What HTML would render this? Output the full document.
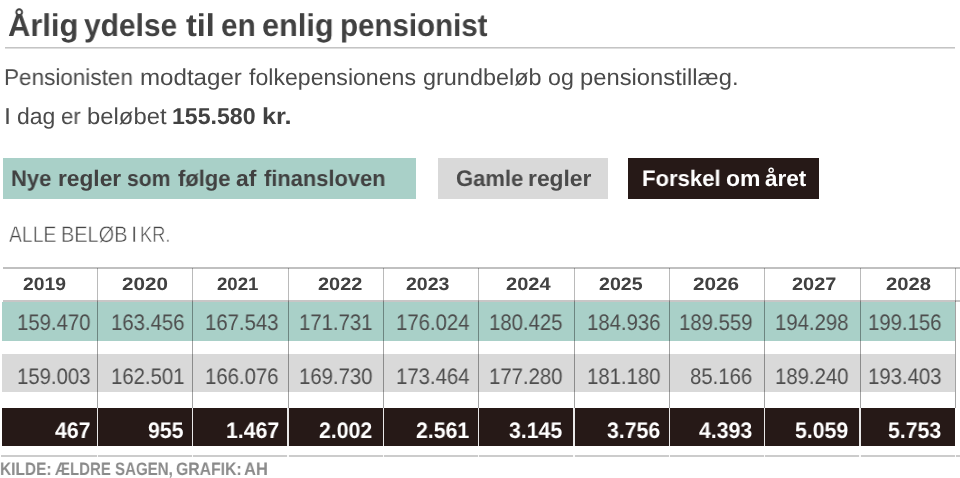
<!DOCTYPE html>
<html lang="da">
<head>
<meta charset="utf-8">
<title>Årlig ydelse til en enlig pensionist</title>
<style>
html,body{margin:0;padding:0;background:#fff;}
body{width:960px;height:478px;position:relative;overflow:hidden;font-family:'Liberation Sans', sans-serif;}
.t{will-change:transform;text-rendering:geometricPrecision;position:absolute;white-space:nowrap;line-height:1;transform-origin:0 0;font-family:'Liberation Sans', sans-serif;}
.thin{-webkit-text-stroke:0.5px #fff;}
.r{position:absolute;}
</style>
</head>
<body>
<div class="r" style="left:5px;top:47px;width:949.5px;height:2px;background:linear-gradient(#c4c4c4 50%,#dedede 50%);"></div>
<div class="r" style="left:3px;top:158.1px;width:412.6px;height:40.8px;background:#a9d0c8;"></div>
<div class="r" style="left:438.4px;top:158.1px;width:169.5px;height:40.8px;background:#d9d9d9;"></div>
<div class="r" style="left:628.3px;top:158.1px;width:190.5px;height:40.8px;background:#261917;"></div>
<div class="r" style="left:2.6px;top:267px;width:957.4px;height:1.7px;background:#c0c0c0;"></div>
<div class="r" style="left:1.5px;top:302.0px;width:953.3px;height:38.7px;background:#a9d0c8;"></div>
<div class="r" style="left:3px;top:300.3px;width:957px;height:1.7px;background:#c8c6c6;"></div>
<div class="r" style="left:1.5px;top:353.7px;width:953.2px;height:38.3px;background:#d9d9d9;"></div>
<div class="r" style="left:1.6px;top:407.8px;width:953.3px;height:38.2px;background:#261917;"></div>
<div class="r" style="left:1.0px;top:455.1px;width:959px;height:1.7px;background:#cccccc;"></div>
<div class="r" style="left:96.9px;top:267.5px;width:1px;height:33px;background:rgba(0,0,0,0.27);"></div>
<div class="r" style="left:96.9px;top:300.5px;width:1px;height:107.3px;background:rgba(0,0,0,0.36);"></div>
<div class="r" style="left:96.7px;top:407.8px;width:1.4px;height:49.5px;background:rgba(255,255,255,0.9);"></div>
<div class="r" style="left:192.23px;top:267.5px;width:1px;height:33px;background:rgba(0,0,0,0.27);"></div>
<div class="r" style="left:192.23px;top:300.5px;width:1px;height:107.3px;background:rgba(0,0,0,0.36);"></div>
<div class="r" style="left:192.03px;top:407.8px;width:1.4px;height:49.5px;background:rgba(255,255,255,0.9);"></div>
<div class="r" style="left:287.56px;top:267.5px;width:1px;height:33px;background:rgba(0,0,0,0.27);"></div>
<div class="r" style="left:287.56px;top:300.5px;width:1px;height:107.3px;background:rgba(0,0,0,0.36);"></div>
<div class="r" style="left:287.36px;top:407.8px;width:1.4px;height:49.5px;background:rgba(255,255,255,0.9);"></div>
<div class="r" style="left:382.89px;top:267.5px;width:1px;height:33px;background:rgba(0,0,0,0.27);"></div>
<div class="r" style="left:382.89px;top:300.5px;width:1px;height:107.3px;background:rgba(0,0,0,0.36);"></div>
<div class="r" style="left:382.69px;top:407.8px;width:1.4px;height:49.5px;background:rgba(255,255,255,0.9);"></div>
<div class="r" style="left:478.22px;top:267.5px;width:1px;height:33px;background:rgba(0,0,0,0.27);"></div>
<div class="r" style="left:478.22px;top:300.5px;width:1px;height:107.3px;background:rgba(0,0,0,0.36);"></div>
<div class="r" style="left:478.02px;top:407.8px;width:1.4px;height:49.5px;background:rgba(255,255,255,0.9);"></div>
<div class="r" style="left:573.55px;top:267.5px;width:1px;height:33px;background:rgba(0,0,0,0.27);"></div>
<div class="r" style="left:573.55px;top:300.5px;width:1px;height:107.3px;background:rgba(0,0,0,0.36);"></div>
<div class="r" style="left:573.35px;top:407.8px;width:1.4px;height:49.5px;background:rgba(255,255,255,0.9);"></div>
<div class="r" style="left:668.88px;top:267.5px;width:1px;height:33px;background:rgba(0,0,0,0.27);"></div>
<div class="r" style="left:668.88px;top:300.5px;width:1px;height:107.3px;background:rgba(0,0,0,0.36);"></div>
<div class="r" style="left:668.68px;top:407.8px;width:1.4px;height:49.5px;background:rgba(255,255,255,0.9);"></div>
<div class="r" style="left:764.21px;top:267.5px;width:1px;height:33px;background:rgba(0,0,0,0.27);"></div>
<div class="r" style="left:764.21px;top:300.5px;width:1px;height:107.3px;background:rgba(0,0,0,0.36);"></div>
<div class="r" style="left:764.01px;top:407.8px;width:1.4px;height:49.5px;background:rgba(255,255,255,0.9);"></div>
<div class="r" style="left:859.54px;top:267.5px;width:1px;height:33px;background:rgba(0,0,0,0.27);"></div>
<div class="r" style="left:859.54px;top:300.5px;width:1px;height:107.3px;background:rgba(0,0,0,0.36);"></div>
<div class="r" style="left:859.34px;top:407.8px;width:1.4px;height:49.5px;background:rgba(255,255,255,0.9);"></div>
<div class="r" style="left:954.87px;top:267.5px;width:1px;height:33px;background:rgba(0,0,0,0.27);"></div>
<div class="r" style="left:954.87px;top:300.5px;width:1px;height:107.3px;background:rgba(0,0,0,0.36);"></div>
<div class="r" style="left:954.67px;top:407.8px;width:1.4px;height:49.5px;background:rgba(255,255,255,0.9);"></div>
<div class="t" style="left:7.65px;top:10.00px;font-size:31.5px;font-weight:700;color:#414141;transform:scale(0.9811,1.0)">Årlig</div>
<div class="t" style="left:84.42px;top:10.00px;font-size:31.5px;font-weight:700;color:#414141;transform:scale(0.9507,1.0)">ydelse</div>
<div class="t" style="left:186.48px;top:10.00px;font-size:31.5px;font-weight:700;color:#414141;transform:scale(1.0288,1.0)">til</div>
<div class="t" style="left:221.25px;top:10.00px;font-size:31.5px;font-weight:700;color:#414141;transform:scale(0.9464,1.0)">en</div>
<div class="t" style="left:262.22px;top:10.00px;font-size:31.5px;font-weight:700;color:#414141;transform:scale(0.9745,1.0)">enlig</div>
<div class="t" style="left:339.72px;top:10.00px;font-size:31.5px;font-weight:700;color:#414141;transform:scale(0.9364,1.0)">pensionist</div>
<div class="t" style="left:3.76px;top:66.00px;font-size:23px;font-weight:400;color:#4a4a4a;transform:scale(0.9788,1.0)">Pensionisten</div>
<div class="t" style="left:140.19px;top:66.00px;font-size:23px;font-weight:400;color:#4a4a4a;transform:scale(1.0485,1.0)">modtager</div>
<div class="t" style="left:248.81px;top:66.00px;font-size:23px;font-weight:400;color:#4a4a4a;transform:scale(1.0043,1.0)">folkepensionens</div>
<div class="t" style="left:422.55px;top:66.00px;font-size:23px;font-weight:400;color:#4a4a4a;transform:scale(1.0188,1.0)">grundbeløb</div>
<div class="t" style="left:548.07px;top:66.00px;font-size:23px;font-weight:400;color:#4a4a4a;transform:scale(1.0084,1.0)">og</div>
<div class="t" style="left:579.93px;top:66.00px;font-size:23px;font-weight:400;color:#4a4a4a;transform:scale(1.0336,1.0)">pensionstillæg.</div>
<div class="t" style="left:3.88px;top:105.00px;font-size:23px;font-weight:400;color:#4a4a4a;transform:scale(1.0948,1.0)">I</div>
<div class="t" style="left:16.58px;top:105.00px;font-size:23px;font-weight:400;color:#4a4a4a;transform:scale(0.9923,1.0)">dag</div>
<div class="t" style="left:60.91px;top:105.00px;font-size:23px;font-weight:400;color:#4a4a4a;transform:scale(0.9677,1.0)">er</div>
<div class="t" style="left:86.91px;top:105.00px;font-size:23px;font-weight:400;color:#4a4a4a;transform:scale(1.0365,1.0)">beløbet</div>
<div class="t" style="left:171.79px;top:105.00px;font-size:23px;font-weight:700;color:#414141;transform:scale(1.0055,1.0)">155.580</div>
<div class="t" style="left:262.00px;top:105.00px;font-size:23px;font-weight:700;color:#414141;transform:scale(1.1037,1.0)">kr.</div>
<div class="t" style="left:11.41px;top:168.00px;font-size:22.5px;font-weight:700;color:#414141;transform:scale(0.9773,1.0)">Nye</div>
<div class="t" style="left:57.86px;top:168.00px;font-size:22.5px;font-weight:700;color:#414141;transform:scale(1.0091,1.0)">regler</div>
<div class="t" style="left:127.05px;top:168.00px;font-size:22.5px;font-weight:700;color:#414141;transform:scale(0.9396,1.0)">som</div>
<div class="t" style="left:177.67px;top:168.00px;font-size:22.5px;font-weight:700;color:#414141;transform:scale(0.9743,1.0)">følge</div>
<div class="t" style="left:236.46px;top:168.00px;font-size:22.5px;font-weight:700;color:#414141;transform:scale(1.0156,1.0)">af</div>
<div class="t" style="left:263.77px;top:168.00px;font-size:22.5px;font-weight:700;color:#414141;transform:scale(0.9722,1.0)">finansloven</div>
<div class="t" style="left:455.91px;top:168.00px;font-size:22.5px;font-weight:700;color:#4a4a4a;transform:scale(0.9779,1.0)">Gamle</div>
<div class="t" style="left:528.45px;top:168.00px;font-size:22.5px;font-weight:700;color:#4a4a4a;transform:scale(1.0140,1.0)">regler</div>
<div class="t" style="left:642.20px;top:168.00px;font-size:22.5px;font-weight:700;color:#ffffff;transform:scale(0.9824,1.0)">Forskel</div>
<div class="t" style="left:725.59px;top:168.00px;font-size:22.5px;font-weight:700;color:#ffffff;transform:scale(1.0226,1.0)">om</div>
<div class="t" style="left:764.99px;top:168.00px;font-size:22.5px;font-weight:700;color:#ffffff;transform:scale(1.0025,1.0)">året</div>
<div class="t thin" style="left:9.13px;top:224.00px;font-size:22.5px;font-weight:400;color:#464646;transform:scale(0.8617,1.0)">ALLE</div>
<div class="t thin" style="left:61.18px;top:224.00px;font-size:22.5px;font-weight:400;color:#464646;transform:scale(0.8863,1.0)">BELØB</div>
<div class="t thin" style="left:130.57px;top:224.00px;font-size:22.5px;font-weight:400;color:#464646;transform:scale(1.0000,1.0)">I</div>
<div class="t thin" style="left:140.24px;top:224.00px;font-size:22.5px;font-weight:400;color:#464646;transform:scale(0.8095,1.0)">KR.</div>
<div class="t" style="left:22.66px;top:275.00px;font-size:18px;font-weight:700;color:#414141;transform:scale(1.0730,1.0)">2019</div>
<div class="t" style="left:122.09px;top:275.00px;font-size:18px;font-weight:700;color:#414141;transform:scale(1.1457,1.0)">2020</div>
<div class="t" style="left:217.25px;top:275.00px;font-size:18px;font-weight:700;color:#414141;transform:scale(1.0352,1.0)">2021</div>
<div class="t" style="left:317.63px;top:275.00px;font-size:18px;font-weight:700;color:#414141;transform:scale(1.1061,1.0)">2022</div>
<div class="t" style="left:405.65px;top:275.00px;font-size:18px;font-weight:700;color:#414141;transform:scale(1.0862,1.0)">2023</div>
<div class="t" style="left:505.62px;top:275.00px;font-size:18px;font-weight:700;color:#414141;transform:scale(1.1127,1.0)">2024</div>
<div class="t" style="left:599.39px;top:275.00px;font-size:18px;font-weight:700;color:#414141;transform:scale(1.0892,1.0)">2025</div>
<div class="t" style="left:692.58px;top:275.00px;font-size:18px;font-weight:700;color:#414141;transform:scale(1.1520,1.0)">2026</div>
<div class="t" style="left:791.88px;top:275.00px;font-size:18px;font-weight:700;color:#414141;transform:scale(1.1062,1.0)">2027</div>
<div class="t" style="left:885.61px;top:275.00px;font-size:18px;font-weight:700;color:#414141;transform:scale(1.1238,1.0)">2028</div>
<div class="t" style="left:17.37px;top:312.00px;font-size:22.5px;font-weight:400;color:#4d4d4d;transform:scale(0.9043,1.0)">159.470</div>
<div class="t" style="left:110.57px;top:312.00px;font-size:22.5px;font-weight:400;color:#4d4d4d;transform:scale(0.9043,1.0)">163.456</div>
<div class="t" style="left:205.37px;top:312.00px;font-size:22.5px;font-weight:400;color:#4d4d4d;transform:scale(0.9043,1.0)">167.543</div>
<div class="t" style="left:298.58px;top:312.00px;font-size:22.5px;font-weight:400;color:#4d4d4d;transform:scale(0.9043,1.0)">171.731</div>
<div class="t" style="left:396.16px;top:312.00px;font-size:22.5px;font-weight:400;color:#4d4d4d;transform:scale(0.9043,1.0)">176.024</div>
<div class="t" style="left:489.27px;top:312.00px;font-size:22.5px;font-weight:400;color:#4d4d4d;transform:scale(0.9043,1.0)">180.425</div>
<div class="t" style="left:586.92px;top:312.00px;font-size:22.5px;font-weight:400;color:#4d4d4d;transform:scale(0.9043,1.0)">184.936</div>
<div class="t" style="left:679.17px;top:312.00px;font-size:22.5px;font-weight:400;color:#4d4d4d;transform:scale(0.9043,1.0)">189.559</div>
<div class="t" style="left:775.17px;top:312.00px;font-size:22.5px;font-weight:400;color:#4d4d4d;transform:scale(0.9043,1.0)">194.298</div>
<div class="t" style="left:867.67px;top:312.00px;font-size:22.5px;font-weight:400;color:#4d4d4d;transform:scale(0.9043,1.0)">199.156</div>
<div class="t" style="left:17.37px;top:366.00px;font-size:22.5px;font-weight:400;color:#4d4d4d;transform:scale(0.9043,1.0)">159.003</div>
<div class="t" style="left:110.58px;top:366.00px;font-size:22.5px;font-weight:400;color:#4d4d4d;transform:scale(0.9043,1.0)">162.501</div>
<div class="t" style="left:205.37px;top:366.00px;font-size:22.5px;font-weight:400;color:#4d4d4d;transform:scale(0.9043,1.0)">166.076</div>
<div class="t" style="left:298.57px;top:366.00px;font-size:22.5px;font-weight:400;color:#4d4d4d;transform:scale(0.9043,1.0)">169.730</div>
<div class="t" style="left:396.16px;top:366.00px;font-size:22.5px;font-weight:400;color:#4d4d4d;transform:scale(0.9043,1.0)">173.464</div>
<div class="t" style="left:489.27px;top:366.00px;font-size:22.5px;font-weight:400;color:#4d4d4d;transform:scale(0.9043,1.0)">177.280</div>
<div class="t" style="left:586.92px;top:366.00px;font-size:22.5px;font-weight:400;color:#4d4d4d;transform:scale(0.9043,1.0)">181.180</div>
<div class="t" style="left:690.21px;top:366.00px;font-size:22.5px;font-weight:400;color:#4d4d4d;transform:scale(0.9043,1.0)">85.166</div>
<div class="t" style="left:775.17px;top:366.00px;font-size:22.5px;font-weight:400;color:#4d4d4d;transform:scale(0.9043,1.0)">189.240</div>
<div class="t" style="left:867.67px;top:366.00px;font-size:22.5px;font-weight:400;color:#4d4d4d;transform:scale(0.9043,1.0)">193.403</div>
<div class="t" style="left:55.09px;top:420.00px;font-size:22.5px;font-weight:700;color:#ffffff;transform:scale(0.9452,1.0)">467</div>
<div class="t" style="left:148.06px;top:420.00px;font-size:22.5px;font-weight:700;color:#ffffff;transform:scale(0.9452,1.0)">955</div>
<div class="t" style="left:225.73px;top:420.00px;font-size:22.5px;font-weight:700;color:#ffffff;transform:scale(0.9452,1.0)">1.467</div>
<div class="t" style="left:318.92px;top:420.00px;font-size:22.5px;font-weight:700;color:#ffffff;transform:scale(0.9452,1.0)">2.002</div>
<div class="t" style="left:416.45px;top:420.00px;font-size:22.5px;font-weight:700;color:#ffffff;transform:scale(0.9452,1.0)">2.561</div>
<div class="t" style="left:508.96px;top:420.00px;font-size:22.5px;font-weight:700;color:#ffffff;transform:scale(0.9452,1.0)">3.145</div>
<div class="t" style="left:606.79px;top:420.00px;font-size:22.5px;font-weight:700;color:#ffffff;transform:scale(0.9452,1.0)">3.756</div>
<div class="t" style="left:699.04px;top:420.00px;font-size:22.5px;font-weight:700;color:#ffffff;transform:scale(0.9452,1.0)">4.393</div>
<div class="t" style="left:795.06px;top:420.00px;font-size:22.5px;font-weight:700;color:#ffffff;transform:scale(0.9452,1.0)">5.059</div>
<div class="t" style="left:887.54px;top:420.00px;font-size:22.5px;font-weight:700;color:#ffffff;transform:scale(0.9452,1.0)">5.753</div>
<div class="t" style="left:0.20px;top:460.00px;font-size:18px;font-weight:700;color:#8a8a8a;transform:scale(0.8589,1.0)">KILDE:</div>
<div class="t" style="left:55.01px;top:460.00px;font-size:18px;font-weight:700;color:#8a8a8a;transform:scale(0.8333,1.0)">ÆLDRE</div>
<div class="t" style="left:114.92px;top:460.00px;font-size:18px;font-weight:700;color:#8a8a8a;transform:scale(0.8373,1.0)">SAGEN,</div>
<div class="t" style="left:176.09px;top:460.00px;font-size:18px;font-weight:700;color:#8a8a8a;transform:scale(0.8756,1.0)">GRAFIK:</div>
<div class="t" style="left:243.85px;top:460.00px;font-size:18px;font-weight:700;color:#8a8a8a;transform:scale(0.9177,1.0)">AH</div>
</body>
</html>
